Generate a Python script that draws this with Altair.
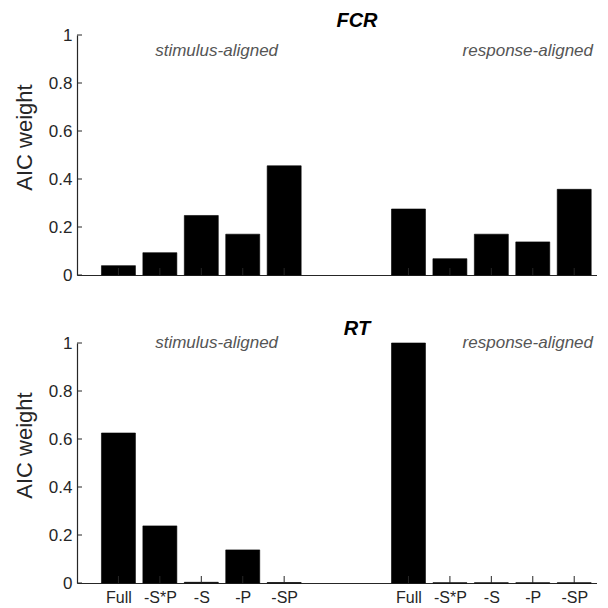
import json
import altair as alt
import pandas as pd

# ---- data ----
models = ["Full", "-S*P", "-S", "-P", "-SP"]
fcr_stim = [0.039, 0.093, 0.248, 0.170, 0.455]
fcr_resp = [0.275, 0.068, 0.170, 0.138, 0.357]
rt_stim = [0.625, 0.238, 0.003, 0.138, 0.002]
rt_resp = [1.000, 0.001, 0.001, 0.001, 0.001]
y_ticks = [0, 0.2, 0.4, 0.6, 0.8, 1]
panel_titles = ["FCR", "RT"]
group_labels = ["stimulus-aligned", "response-aligned"]

# ---- layout / style ----
STIM_POS = list(range(0, 5))
RESP_POS = list(range(7, 12))
W, H = 520, 240
AX = "#262626"
FONT = "Liberation Sans"

pos_all = STIM_POS + RESP_POS
label_arr = [""] * 12
for p, m in zip(STIM_POS, models):
    label_arr[p] = m
for p, m in zip(RESP_POS, models):
    label_arr[p] = m
label_expr = json.dumps(label_arr) + "[datum.value]"

xscale = alt.Scale(domain=[-1, 11.55], nice=False, zero=False)
yscale = alt.Scale(domain=[0, 1], nice=False)


def panel(title, stim, resp, show_labels, ann_y):
    df = pd.DataFrame({
        "model": models + models,
        "pos": STIM_POS + RESP_POS,
        "value": stim + resp,
    })
    xaxis = alt.Axis(
        values=pos_all, labelExpr=label_expr, labels=show_labels, ticks=False,
        grid=False, title=None, domainColor=AX, domainWidth=1.2,
        labelColor=AX, labelFontSize=16, labelFont=FONT, labelPadding=6,
    )
    yaxis = alt.Axis(
        values=y_ticks, format="~g", ticks=False, grid=False,
        domainColor=AX, domainWidth=1.2, labelColor=AX, labelFontSize=17,
        labelFont=FONT, labelPadding=5, title="AIC weight", titleFontSize=22,
        titleFont=FONT, titleFontWeight="normal", titleColor=AX,
        titlePadding=12, titleY=H / 2 - 18,
    )
    bars = alt.Chart(df).transform_calculate(
        x0="datum.pos - 0.41", x1="datum.pos + 0.41"
    ).mark_bar(color="black", stroke="black", strokeWidth=0.6).encode(
        x=alt.X("x0:Q", scale=xscale, axis=xaxis),
        x2="x1:Q",
        y=alt.Y("value:Q", scale=yscale, axis=yaxis),
        y2=alt.datum(0),
    )
    xt = alt.Chart(pd.DataFrame({"pos": pos_all})).mark_rule(
        color=AX, strokeWidth=1
    ).encode(
        x=alt.X("pos:Q", scale=xscale, axis=xaxis),
        y=alt.value(H), y2=alt.value(H - 7),
    )
    yt = alt.Chart(pd.DataFrame({"t": y_ticks})).mark_rule(
        color=AX, strokeWidth=1
    ).encode(
        y=alt.Y("t:Q", scale=yscale, axis=yaxis),
        x=alt.value(0), x2=alt.value(5),
    )
    ann = alt.Chart(pd.DataFrame({
        "txt": group_labels, "x": [2.37, 9.88], "y": [ann_y, ann_y]
    })).mark_text(
        font=FONT, fontSize=17, fontStyle="italic", color="#555555",
        align="center", baseline="middle",
    ).encode(
        x=alt.X("x:Q", scale=xscale, axis=xaxis),
        y=alt.Y("y:Q", scale=yscale, axis=yaxis),
        text="txt:N",
    )
    return alt.layer(bars, xt, yt, ann).properties(
        width=W, height=H,
        title=alt.TitleParams(
            title, fontSize=20, fontStyle="italic", fontWeight="bold",
            font=FONT, color="black", anchor="middle", dx=20, offset=-5,
        ),
    )


top = panel(panel_titles[0], fcr_stim, fcr_resp, False, 0.935)
bottom = panel(panel_titles[1], rt_stim, rt_resp, True, 1.0)

chart = alt.vconcat(top, bottom, spacing=36).properties(
    padding={"left": 5, "top": 3, "right": 0, "bottom": 0}
).configure_view(stroke=None)

chart.save("out.html", embed_options={"renderer": "svg", "actions": False})
